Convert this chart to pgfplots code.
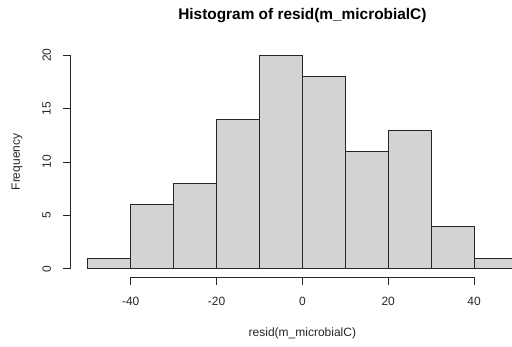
\documentclass[border=0pt]{standalone}
\usepackage{pgfplots}
\pgfplotsset{compat=1.18}
\usepackage{fontspec}
\setmainfont{Liberation Sans}
\definecolor{barfill}{HTML}{D3D3D3}
\definecolor{edge}{HTML}{262626}
\begin{document}
\begin{tikzpicture}
\path[use as bounding box] (0,0) rectangle (512pt,346pt);
\begin{axis}[
  name=ax, at={(0,0)}, anchor=south west,
  scale only axis, width=512pt, height=346pt,
  xmin=-70.46, xmax=48.84, ymin=-7.245, ymax=25.18,
  hide axis, clip=false,
  font=\fontsize{12}{14}\selectfont,
]
\addplot[ybar interval, fill=barfill, draw=edge, line width=0.75pt] coordinates {
(-50,1) (-40,6) (-30,8) (-20,14) (-10,20) (0,18) (10,11) (20,13) (30,4) (40,1) (50,1)};
% x axis
\draw[edge, line width=0.75pt] (axis cs:-40,-0.8) -- (axis cs:40,-0.8);
\draw[edge, line width=0.75pt] (axis cs:-40,-0.8) -- ([yshift=-7.3pt]axis cs:-40,-0.8);
\draw[edge, line width=0.75pt] (axis cs:-20,-0.8) -- ([yshift=-7.3pt]axis cs:-20,-0.8);
\draw[edge, line width=0.75pt] (axis cs:0,-0.8) -- ([yshift=-7.3pt]axis cs:0,-0.8);
\draw[edge, line width=0.75pt] (axis cs:20,-0.8) -- ([yshift=-7.3pt]axis cs:20,-0.8);
\draw[edge, line width=0.75pt] (axis cs:40,-0.8) -- ([yshift=-7.3pt]axis cs:40,-0.8);
\node[text=edge] at ([yshift=-24pt]axis cs:-40,-0.8) {-40};
\node[text=edge] at ([yshift=-24pt]axis cs:-20,-0.8) {-20};
\node[text=edge] at ([yshift=-24pt]axis cs:0,-0.8) {0};
\node[text=edge] at ([yshift=-24pt]axis cs:20,-0.8) {20};
\node[text=edge] at ([yshift=-24pt]axis cs:40,-0.8) {40};
% y axis
\draw[edge, line width=0.75pt] (axis cs:-54,0) -- (axis cs:-54,20);
\draw[edge, line width=0.75pt] (axis cs:-54,0) -- ([xshift=-7.3pt]axis cs:-54,0);
\draw[edge, line width=0.75pt] (axis cs:-54,5) -- ([xshift=-7.3pt]axis cs:-54,5);
\draw[edge, line width=0.75pt] (axis cs:-54,10) -- ([xshift=-7.3pt]axis cs:-54,10);
\draw[edge, line width=0.75pt] (axis cs:-54,15) -- ([xshift=-7.3pt]axis cs:-54,15);
\draw[edge, line width=0.75pt] (axis cs:-54,20) -- ([xshift=-7.3pt]axis cs:-54,20);
\node[text=edge, rotate=90] at ([xshift=-24pt]axis cs:-54,0) {0};
\node[text=edge, rotate=90] at ([xshift=-24pt]axis cs:-54,5) {5};
\node[text=edge, rotate=90] at ([xshift=-24pt]axis cs:-54,10) {10};
\node[text=edge, rotate=90] at ([xshift=-24pt]axis cs:-54,15) {15};
\node[text=edge, rotate=90] at ([xshift=-24pt]axis cs:-54,20) {20};
% labels
\node[text=edge] at (axis cs:0,-6.03) {resid(m\_microbialC)};
\node[text=edge, rotate=90] at (axis cs:-66.5,10) {Frequency};
\node[font=\fontsize{15.4}{18}\selectfont\bfseries] at (axis cs:0,23.68) {Histogram of resid(m\_microbialC)};
\end{axis}
\end{tikzpicture}
\end{document}
